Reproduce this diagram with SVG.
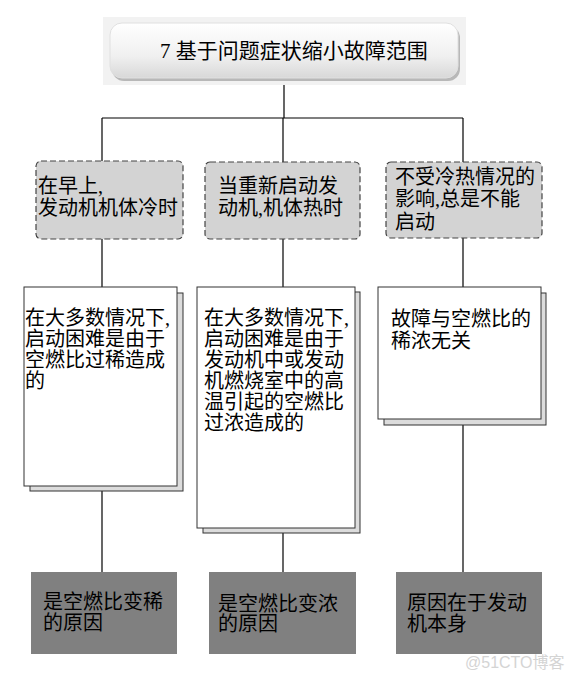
<svg xmlns="http://www.w3.org/2000/svg" width="573" height="680" viewBox="0 0 573 680">
<defs>
<linearGradient id="tg" x1="0" y1="0" x2="0" y2="1">
<stop offset="0" stop-color="#ffffff"/>
<stop offset="0.6" stop-color="#f0f0f0"/>
<stop offset="1" stop-color="#d8d8d8"/>
</linearGradient>
</defs>
<style>
text{font-family:"Liberation Serif","Noto Sans CJK SC",serif;font-size:20px;fill:#000}
.title{font-size:21px}
.dash{fill:#d3d3d3;stroke:#444;stroke-width:1.2;stroke-dasharray:6 3}
.shadow{fill:#dcdcdc;stroke:#333;stroke-width:1}
.card{fill:#fff;stroke:#333;stroke-width:1}
.res{fill:#808080;stroke:none}
.conn line{stroke:#000;stroke-width:1.2}
.wm{font-family:"Liberation Sans","Noto Sans CJK SC",sans-serif;font-size:16px;fill:#d4d4d4}
</style>
<rect width="573" height="680" fill="#fff"/>
<g id="conn" class="conn">
<line x1="284" y1="78" x2="284" y2="118"/>
<line x1="102" y1="118" x2="463" y2="118"/>
<line x1="102" y1="118" x2="102" y2="161"/>
<line x1="283" y1="118" x2="283" y2="162"/>
<line x1="463" y1="118" x2="463" y2="162"/>
<line x1="102" y1="239" x2="102" y2="287"/>
<line x1="283" y1="239" x2="283" y2="287"/>
<line x1="463" y1="238" x2="463" y2="287"/>
<line x1="102" y1="491" x2="102" y2="572"/>
<line x1="283" y1="533" x2="283" y2="572"/>
<line x1="463" y1="425" x2="463" y2="572"/>
</g>
<g id="title">
<rect x="103" y="17" width="363" height="68" fill="#f2f2f2"/>
<rect x="112" y="26" width="348" height="55" rx="12" fill="#b8b8b8"/>
<rect x="110" y="23" width="348" height="55" rx="12" fill="url(#tg)" stroke="#e0e0e0" stroke-width="1"/>
<text class="title" x="160" y="58">7 基于问题症状缩小故障范围</text>
</g>
<g id="c1">
<rect class="dash" x="36" y="161" width="147" height="78" rx="5"/>
<text x="38" y="193">在早上,</text>
<text x="38" y="215">发动机机体冷时</text>
</g>
<g id="c2">
<rect class="dash" x="205" y="162" width="155" height="77" rx="5"/>
<text x="218" y="193">当重新启动发</text>
<text x="218" y="215">动机,机体热时</text>
</g>
<g id="c3">
<rect class="dash" x="386" y="162" width="156" height="76" rx="5"/>
<text x="395" y="183.5">不受冷热情况的</text>
<text x="395" y="206">影响,总是不能</text>
<text x="395" y="228.5">启动</text>
</g>
<g id="d1">
<rect class="shadow" x="30" y="293" width="153" height="198"/>
<rect class="card" x="24" y="287" width="153" height="199"/>
<text x="25" y="325">在大多数情况下,</text>
<text x="25" y="346">启动困难是由于</text>
<text x="25" y="367">空燃比过稀造成</text>
<text x="25" y="388">的</text>
</g>
<g id="d2">
<rect class="shadow" x="203" y="292" width="157" height="241"/>
<rect class="card" x="197" y="287" width="158" height="241"/>
<text x="204" y="325">在大多数情况下,</text>
<text x="204" y="346">启动困难是由于</text>
<text x="204" y="367">发动机中或发动</text>
<text x="204" y="388">机燃烧室中的高</text>
<text x="204" y="409">温引起的空燃比</text>
<text x="204" y="430">过浓造成的</text>
</g>
<g id="d3">
<rect class="shadow" x="384" y="293" width="162" height="132"/>
<rect class="card" x="378" y="287" width="163" height="132"/>
<text x="391" y="326">故障与空燃比的</text>
<text x="391" y="348">稀浓无关</text>
</g>
<g id="r1">
<rect class="res" x="31" y="572" width="146" height="82"/>
<text x="43" y="609">是空燃比变稀</text>
<text x="43" y="630">的原因</text>
</g>
<g id="r2">
<rect class="res" x="209" y="572" width="147" height="82"/>
<text x="218" y="611">是空燃比变浓</text>
<text x="218" y="631">的原因</text>
</g>
<g id="r3">
<rect class="res" x="396" y="572" width="146" height="82"/>
<text x="407" y="610">原因在于发动</text>
<text x="407" y="631">机本身</text>
</g>
<text class="wm" x="465" y="668">@51CTO博客</text>
</svg>
